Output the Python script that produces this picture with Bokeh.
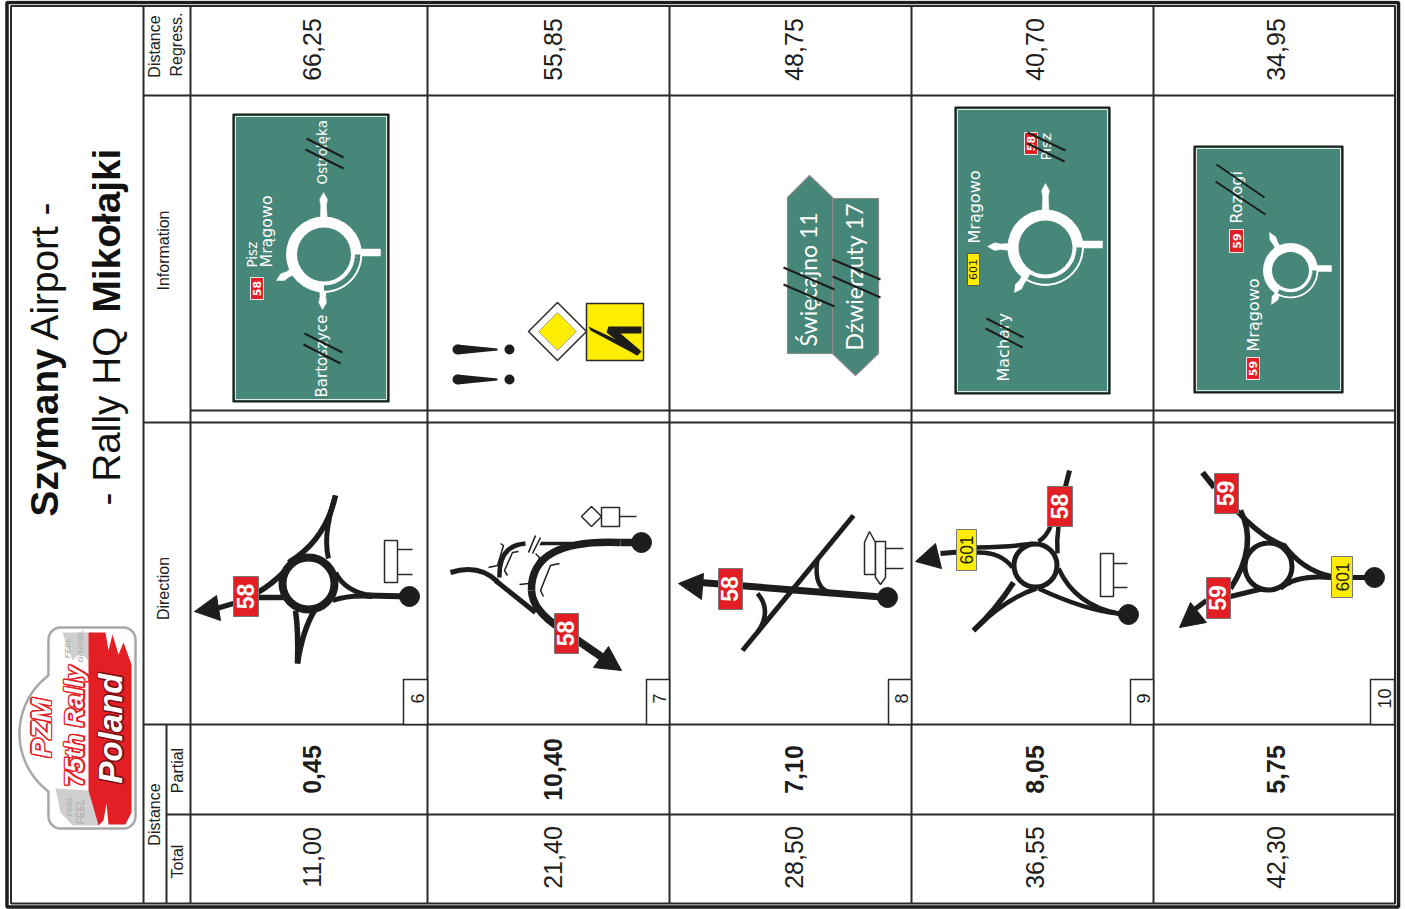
import numpy as np
from bokeh.plotting import figure
from bokeh.embed import file_html
from bokeh.resources import INLINE
from bokeh.core.properties import value

# ---------- table contents ----------
TOTAL = ["11,00", "21,40", "28,50", "36,55", "42,30"]
PARTIAL = ["0,45", "10,40", "7,10", "8,05", "5,75"]
REGRESS = ["66,25", "55,85", "48,75", "40,70", "34,95"]
BOX_NO = ["6", "7", "8", "9", "10"]
NUM_BASE = [320, 561, 802, 1043, 1284]
COL_EDGES = [427, 669, 911, 1153]
H_FULL = [95, 422, 724]

# ---------- palette ----------
INK = "#1d1d1b"; RED = "#e31e24"; YEL = "#ffed00"; GREEN = "#478779"; RULE = "#2a2a2a"

# ---------- direction diagrams: quadratic roads (x0,y0,cx,cy,x1,y1,width) ----------
CURVES = [
    # row 6
    (372,595,345,592,335,572,5),(372,596,350,594,332,600,5),
    (335,495,325,540,288,562,5.5),(335,495,322,535,328,558,5),
    (297,663,298,630,295,610,5.5),(297,663,302,630,314,610,5.5),
    (257,597,270,597,283,597,5.5),(257,592,270,585,285,570,5.5),
    # row 7
    (620,542,530,538,531,590,7.5),(531,590,532,610,560,628,7.5),
    (450,572,478,563,497,581,5),
    (525,543,498,545,499,577,4.5),
    # row 8
    (817,558,812,590,833,593,4.5),(757,593,772,610,757,632,4.5),
    # row 9
    (1118,613,1075,605,1058,568,4.5),(1118,613,1085,610,1038,588,4.5),
    (973,630,995,610,1013,582,5.5),(973,630,1005,598,1036,588,4.5),
    (976,547,1015,546,1033,543,4.5),(976,552,1000,551,1012,567,4.5),
    (1050,526,1046,536,1038,541,4.5),(1058,526,1056,540,1057,553,4.5),
    # row 10
    (1331,576,1302,570,1283,544,5),(1331,577,1295,574,1280,588,5),
    (1236,510,1262,538,1285,546,5.5),(1240,510,1258,545,1230,588,5.5),
    (1230,596,1262,588,1290,582,5),
]
STRAIGHTS = [
    ([409,367],[596,595],6),([233,216],[603,608],5),
    ([641,620],[542,542],7.5),([560,602],[628,657],8),([572,535],[543,543],3.5),([535,495],[612,580],5),
    ([887,700],[597,582],7),([853,742],[515,650],5),
    ([1128,1118],[614,613],6),([976,940],[550,553],5),([1069,1065],[470,486],5),
    ([1374,1352],[577,577],5),([1202,1214],[472,487],6),([1206,1190],[600,612],5),
]
ARROWHEADS = [
    ([194,216,220],[611,595,620]),
    ([621,608,593],[670,646,667]),
    ([678,703,701],[583,573,599]),
    ([915,935,941],[561,543,568]),
    ([1179,1190,1206],[627,602,622]),
]
DOTS = [(409,596,10),(641,542,10),(887,597,10),(1128,614,10),(1374,577,10)]
RINGS = [(308,583,26,8),(1035,565,21.5,5),(1268,566,23.5,5)]
THIN_PATHS = [
    ([488,497,503,500],[567,565,545,543]),
    ([507,504,512,518],[575,570,552,551]),
    ([519,528,539,535],[584,583,557,553]),
    ([543,540,550,559],[596,590,565,563]),
]
SLASHES = [([528,535],[552,535]),([532,540],[553,537])]

# ---------- little roadside signs in the direction column ----------
SIDE_RECTS = [(384,397,540,582),(1100,1113,553,596),(601,619,507,526)]
SIDE_LEGS = [
    ([397,412],[549,549]),([397,412],[574,574]),
    ([1113,1127],[563,563]),([1113,1127],[587,587]),
    ([619,636],[516,516]),([885,903],[548,548]),([885,903],[568,568]),
]
SIDE_POLYS = [
    ([581,591,601,591],[516,506,516,526]),
    ([864,869,875,875,864],[542,531,542,574,574]),
    ([875,885,885,880,875],[541,541,577,584,577]),
]

# ---------- plates: left,right,top,bottom,label,kind ----------
PLATES = [
    (233,258,576,616,"58","r"),(554,578,613,653,"58","r"),(718,742,568,609,"58","r"),
    (1047,1072,486,526,"58","r"),(956,976,529,570,"601","y"),
    (1214,1238,473,513,"59","r"),(1206,1230,577,618,"59","r"),(1331,1352,556,597,"601","y"),
]
SMALL_PLATES = [
    (250,263,277,299,"58","r"),(1024,1037,132,154,"58","r"),(967,979,253,285,"601","y"),
    (1229,1243,229,252,"59","r"),(1246,1259,357,379,"59","r"),
]
TABS = [(403,427),(646,669),(888,911),(1130,1153),(1370,1394)]

# ---------- green direction boards ----------
BOARDS = [(233,388,114,401),(955,1109,107,393),(1194,1342,146,392)]
ROUNDABOUTS = [(323.5,254,38,27,90),(1045,247,38,27,120),(1290,270,27.5,18.5,120)]
ARMS = [
    [(323,192,1,7),(322,309,1,7),(380,252,0,7),(276,280,1,7)],
    [(1045,183,1,7),(1102,244,0,7),(987,246,1,7),(1014,292,1,7)],
    [(1331,268,0,6),(1269,232,1,6),(1271,304,1,6)],
]
BOARD_TEXT = [
    ("Ostrołęka",326,184,13.5),("Bartoszyce",327,397,15),("Pisz",256,267,13.5),("Mrągowo",272,267,15.8),
    ("Mrągowo",980,243,16),("Machary",1009,381,16),("Pisz",1051,160,14.5),
    ("Rozogi",1242,223,15.8),("Mrągowo",1259,351,16),
]
BOARD_STRIKES = [
    ([306,343],[138,157]),([305,343],[149,168]),([304,342],[333,352]),([303,340],[344,363]),
    ([986,1023],[318,337]),([985,1022],[328,347]),([1027,1065],[132,150]),([1027,1064],[143,161]),
    ([1216,1264],[164,197]),([1215,1265],[181,214]),
    ([783,834],[267,289]),([783,834],[284,306]),([832,880],[259,279]),([832,880],[276,297]),
]
FINGER_A = ([787,809,832,832,787],[197,175,197,353,353])
FINGER_B = ([832,878,878,855,832],[198,198,353,375,353])

# ---------- warning group in row 7 ----------
YELLOW_SQ = (586,643,303,360)
DIAMOND = (557,331,29,19)
BEND_WEDGE = ([588,641,637,590],[326,351,355,330])
BEND_BAR = ([608,641,641,620,640,636,606],[326,326,333,333,350,355,332])
EXCL_Y = [349,379]

# ---------- logo ----------
LOGO_RED = ([88,105,108,112,118,123,131,131,125,108,106,103,98,88],
            [632,632,650,634,654,642,664,812,824,824,803,820,825,790])
LOGO_GREY = [([62,88,88,80,72],[632,632,660,652,660]),([55,88,98,72,60],[788,790,825,825,812])]
LOGO_TEXT = [
    ("PZM",51,757,28,RED),
    ("75th Rally",83,786,25.5,RED),
    ("Poland",122,783,33,"#7a1214"),
]
LOGO_GREY_TEXT = [("GRAVEL",83,662,8),("FEEL",70,658,8),("FEEL",84,824,10),("FEEL",72,816,8)]

W, H = 1405, 909
p = figure(width=W, height=H, x_range=(0, W), y_range=(H, 0), output_backend="svg",
           toolbar_location=None, min_border=0, outline_line_color=None,
           background_fill_color="white", border_fill_color="white")
p.axis.visible = False
p.grid.visible = False
p.styles = {"position": "absolute", "left": "0", "top": "0"}
UP = np.pi / 2
BASE_SHIFT = 0.36


def txt(x, y, s, size, font="Liberation Sans", style="normal", color=INK, align="center"):
    p.text(x=[x - BASE_SHIFT * size], y=[y], text=[s], angle=UP, text_font=value(font), text_font_size=f"{size}px",
           text_font_style=style, text_color=color, text_align=align, text_baseline="alphabetic")


def ln(xs, ys, w=2, c=RULE, **kw):
    p.line(xs, ys, line_width=w, line_color=c, **kw)


# frame and grid
p.quad(left=[6.5], right=[1398], top=[2], bottom=[906.5], fill_color=None, line_color=INK, line_width=3.5)
p.quad(left=[10.5], right=[1394.5], top=[5.5], bottom=[903], fill_color=None, line_color=RULE, line_width=2)
for x in COL_EDGES:
    ln([x, x], [6, 903])
ln([143, 143], [6, 903]); ln([190, 190], [6, 903]); ln([166, 166], [724, 903])
for y in H_FULL:
    ln([143, 1394], [y, y])
ln([190, 1394], [410, 410]); ln([166, 1394], [814, 814])

# titles
txt(58, 516, "Szymany", 38.8, style="bold", color="#111111", align="left")
txt(58, 340, "Airport -", 38.8, color="#111111", align="left")
txt(120, 505, "- Rally HQ", 38.8, color="#111111", align="left")
txt(120, 312, "Mikołajki", 38.8, style="bold", color="#111111", align="left")

# headers
txt(160, 46, "Distance", 16); txt(182, 44, "Regress.", 16)
txt(169, 250, "Information", 16); txt(169, 588, "Direction", 16)
txt(160, 814, "Distance", 16); txt(183, 770, "Partial", 16); txt(183, 861, "Total", 16)

# numbers
for b, r, a, t in zip(NUM_BASE, REGRESS, PARTIAL, TOTAL):
    txt(b, 49, r, 25)
    txt(b, 769, a, 25, style="bold")
    txt(b, 857, t, 25)

# tabs
for (l, r), n in zip(TABS, BOX_NO):
    p.quad(left=[l], right=[r], top=[679], bottom=[724], fill_color="white", line_color=RULE,
           line_width=1.5, line_join="round")
    txt(r - 4, 698, n, 18)

# direction diagrams
for x0, y0, cx, cy, x1, y1, w in CURVES:
    p.quadratic(x0=[x0], y0=[y0], cx=[cx], cy=[cy], x1=[x1], y1=[y1], line_color=INK, line_width=w)
for xs, ys, w in STRAIGHTS:
    ln(xs, ys, w, INK)
for xs, ys in ARROWHEADS:
    p.patch(xs, ys, fill_color=INK, line_color=INK, line_width=1)
for xs, ys in THIN_PATHS:
    ln(xs, ys, 1.5, INK)
for xs, ys in SLASHES:
    ln(xs, ys, 5, "white")
    ln(xs, ys, 1.6, INK)
for x, y, r in DOTS:
    p.circle(x=[x], y=[y], radius=r, fill_color=INK, line_color=INK)
for x, y, r, w in RINGS:
    p.circle(x=[x], y=[y], radius=r, fill_color="white", line_color=INK, line_width=w)
for l, r, t, b in SIDE_RECTS:
    p.quad(left=[l], right=[r], top=[t], bottom=[b], fill_color="white", line_color=RULE, line_width=1.5)
for xs, ys in SIDE_LEGS:
    ln(xs, ys, 1.5)
for xs, ys in SIDE_POLYS:
    p.patch(xs, ys, fill_color="white", line_color=RULE, line_width=1.5)

for l, r, t, b, s, k in PLATES:
    p.quad(left=[l], right=[r], top=[t], bottom=[b], fill_color=RED if k == "r" else YEL,
           line_color="#777777", line_width=1, line_join="round")
    if k == "r":
        txt(r - 4.5, (t + b) / 2, s, 23, style="bold", color="white")
    else:
        txt(r - 3.5, (t + b) / 2, s, 17.5)

# boards
for l, r, t, b in BOARDS:
    p.quad(left=[l], right=[r], top=[t], bottom=[b], fill_color=GREEN, line_color=INK, line_width=2.2,
           line_join="round")
    p.quad(left=[l + 2], right=[r - 2], top=[t + 2], bottom=[b - 2], fill_color=GREEN, line_color="#dfe9e6", line_width=1)

for (cx, cy, R, ri, end), arms in zip(ROUNDABOUTS, ARMS):
    for tx, ty, pointed, w in arms:
        tip = np.array([tx, ty], float)
        if pointed:
            u = np.array([tx - cx, ty - cy], float)
            u /= np.hypot(*u)
            n = np.array([-u[1], u[0]]) * w / 2
            base = np.array([cx, cy]) + u * (R - 3)
            neck = tip - u * 7
            wide = n * 1.1
            pts = [base + n, neck - u * 6 + n * 0.8, neck + wide, tip, neck - wide, neck - u * 6 - n * 0.8, base - n]
        else:
            n = np.array([0, w / 2])
            base = np.array([cx + R - 3, ty])
            pts = [base + n, tip + n, tip - n, base - n]
        p.patch([q[0] for q in pts], [q[1] for q in pts], fill_color="white", line_color="white", line_width=0.5)
    p.circle(x=[cx], y=[cy], radius=R, fill_color="white", line_color=None)
    p.circle(x=[cx], y=[cy], radius=ri, fill_color=GREEN, line_color=None)
    t = np.radians(np.linspace(0, end, 60))
    rm = ri + 0.6 * (R - ri)
    p.line(cx + rm * np.cos(t), cy + rm * np.sin(t), line_color=GREEN, line_width=(R - ri) * 0.5)
    p.line(cx + (R - 0.5) * np.cos(t), cy + (R - 0.5) * np.sin(t), line_color="white", line_width=1.5)

for s, x, y, sz in BOARD_TEXT:
    txt(x, y, s, sz, "DejaVu Sans", color="white", align="left")
for l, r, t, b, s, k in SMALL_PLATES:
    p.quad(left=[l], right=[r], top=[t], bottom=[b], fill_color=RED if k == "r" else YEL,
           line_color="#e8e8e8" if k == "r" else "#555555", line_width=1)
    txt(r - 2.5, (t + b) / 2, s, 11, "DejaVu Sans", "bold" if k == "r" else "normal", "white" if k == "r" else INK)

# finger signs
p.patch(*FINGER_A, fill_color=GREEN, line_color="#8a8a8a", line_width=1.2)
p.patch(*FINGER_B, fill_color=GREEN, line_color="#8a8a8a", line_width=1.2)
txt(816, 346, "Święcajno 11", 23, "Lato", color="white", align="left")
txt(862, 350, "Dźwierzuty 17", 23, "Lato", color="white", align="left")

for xs, ys in BOARD_STRIKES:
    ln(xs, ys, 2, INK)

# warning group
l, r, t, b = YELLOW_SQ
p.quad(left=[l], right=[r], top=[t], bottom=[b], fill_color=YEL, line_color=RULE, line_width=1.5, line_join="round")
p.patch(*BEND_WEDGE, fill_color=INK, line_color=None)
p.patch(*BEND_BAR, fill_color=INK, line_color=None)
dx, dy, d1, d2 = DIAMOND
p.patch([dx - d1, dx, dx + d1, dx], [dy, dy - d1, dy, dy + d1], fill_color="white", line_color=RULE, line_width=1.5,
        line_join="round")
p.patch([dx - d2, dx, dx + d2, dx], [dy, dy - d2, dy, dy + d2], fill_color=YEL, line_color="#888888", line_width=0.7)
for y in EXCL_Y:
    p.circle(x=[457], y=[y], radius=5, fill_color=INK, line_color=None)
    p.patch([457, 497, 497, 457], [y - 5, y - 1, y + 1, y + 5], fill_color=INK, line_color=None)
    p.circle(x=[509], y=[y], radius=5, fill_color=INK, line_color=None)

# logo
ang = np.radians(np.linspace(180 + 53, 180 - 53, 40))
bx, by = 91.5 + 72.5 * np.cos(ang), 733 + 72.5 * np.sin(ang)
def corner(cx, cy, a0, a1, rad=12):
    a = np.radians(np.linspace(a0, a1, 8))
    return cx + rad * np.cos(a), cy + rad * np.sin(a)
c1 = corner(60, 639, 180, 270); c2 = corner(123, 639, 270, 360); c3 = corner(123, 816, 0, 90); c4 = corner(60, 816, 90, 180)
ox = np.concatenate([c1[0], c2[0], c3[0], c4[0], bx[::-1]])
oy = np.concatenate([c1[1], c2[1], c3[1], c4[1], by[::-1]])
p.patch(ox, oy, fill_color="white", line_color="#a8a8a8", line_width=2.5, line_join="round")
for xs, ys in LOGO_GREY:
    p.patch(xs, ys, fill_color="#cfcfcf", line_color=None)
p.patch(*LOGO_RED, fill_color=RED, line_color=None)
for s, x, y, sz in LOGO_GREY_TEXT:
    txt(x, y, s, sz, style="bold italic", color="#b4b4b4", align="left")
for s, x, y, sz, oc in LOGO_TEXT:
    for ox_, oy_ in ((-1.5, 0), (1.5, 0), (0, -1.5), (0, 1.5), (1.2, 1.2), (-1.2, -1.2), (1.2, -1.2), (-1.2, 1.2)):
        txt(x + ox_, y + oy_, s, sz, style="bold italic", color=oc, align="left")
    txt(x, y, s, sz, style="bold italic", color="#ffffff", align="left")

open("out.html", "w").write(file_html(p, INLINE))
